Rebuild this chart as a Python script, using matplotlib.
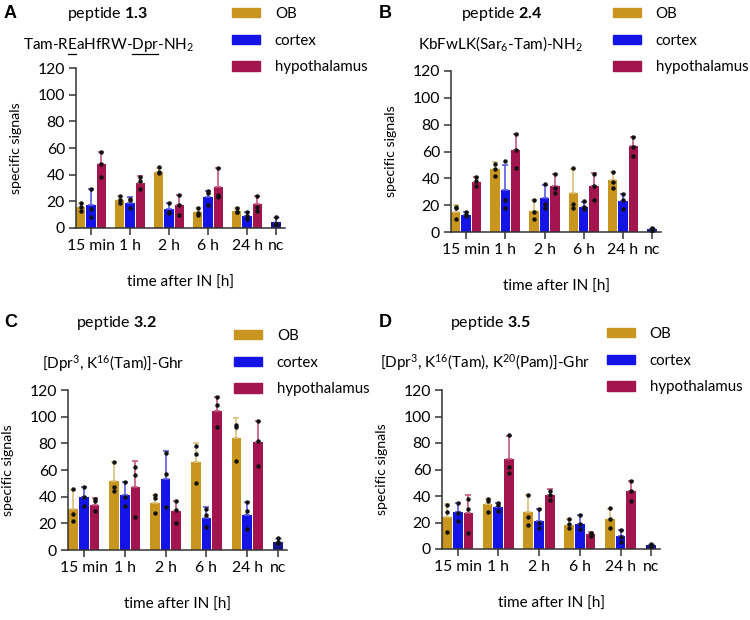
import numpy as np
import matplotlib.pyplot as plt
from matplotlib.patches import Patch
from matplotlib.lines import Line2D

plt.rcParams['font.family'] = ['Lato', 'DejaVu Sans']
plt.rcParams['mathtext.fontset'] = 'custom'
plt.rcParams['mathtext.rm'] = 'Lato'
plt.rcParams['mathtext.bf'] = 'Lato:bold'
plt.rcParams['mathtext.it'] = 'Lato:italic'

times = ["15 min", "1 h", "2 h", "6 h", "24 h", "nc"]
series = ["OB", "cortex", "hypothalamus"]

# panel A - peptide 1.3
ob_A = [16, 21, 42, 12, 13]
ob_A_sd = [3, 3, 3, 3, 2]
cx_A = [17, 19, 14, 23, 9]
cx_A_sd = [12, 4, 5, 5, 3]
hy_A = [48, 34, 17, 31, 18]
hy_A_sd = [9, 5, 8, 14, 6]
nc_A, nc_A_sd = 4.5, 3.5
ob_A_pts = [[19, 13, 16], [24, 21, 19], [46, 42, 41], [15, 11, 10], [15, 12, 12]]
cx_A_pts = [[29, 8, 14], [22, 21, 15], [19, 12, 11], [28, 26, 17], [12, 9, 7]]
hy_A_pts = [[57, 48, 38], [38, 35, 29], [25, 17, 10], [45, 25, 23], [24, 16, 13]]
nc_A_pts = [8, 3, 3]

# panel B - peptide 2.4
ob_B = [15, 47, 16, 29, 39]
ob_B_sd = [5, 5, 8, 18, 6]
cx_B = [13, 31, 25, 19, 23]
cx_B_sd = [2, 19, 10, 3, 5]
hy_B = [37, 61, 34, 34, 64]
hy_B_sd = [4, 12, 9, 10, 7]
nc_B, nc_B_sd = 2, 1
ob_B_pts = [[19, 18, 10], [51, 47, 42], [24, 15, 10], [48, 21, 18], [45, 37, 33]]
cx_B_pts = [[15, 13, 12], [53, 24, 18], [36, 21, 18], [23, 19, 17], [28, 24, 17]]
hy_B_pts = [[41, 38, 34], [73, 61, 48], [43, 33, 29], [43, 34, 24], [71, 63, 57]]
nc_B_pts = [3, 2, 1]

# panel C - peptide 3.2
ob_C = [31, 52, 35, 66, 84]
ob_C_sd = [14, 14, 6, 14, 15]
cx_C = [40, 41, 53, 24, 26]
cx_C_sd = [7, 10, 21, 8, 10]
hy_C = [34, 47, 29, 104, 81]
hy_C_sd = [5, 20, 8, 11, 16]
nc_C, nc_C_sd = 6, 3
ob_C_pts = [[46, 27, 22], [66, 47, 44], [41, 39, 28], [78, 72, 50], [94, 92, 67]]
cx_C_pts = [[47, 40, 33], [51, 40, 33], [73, 57, 32], [31, 26, 17], [36, 29, 16]]
hy_C_pts = [[38, 37, 29], [62, 56, 25], [37, 30, 20], [115, 109, 92], [97, 82, 63]]
nc_C_pts = [9, 6, 5]

# panel D - peptide 3.5
ob_D = [24, 34, 28, 18, 23]
ob_D_sd = [10, 4, 13, 5, 7]
cx_D = [28, 32, 21, 19, 10]
cx_D_sd = [7, 3, 9, 7, 4]
hy_D = [27, 68, 41, 11, 44]
hy_D_sd = [14, 17, 4, 2, 7]
nc_D, nc_D_sd = 3, 1
ob_D_pts = [[33, 28, 13], [38, 36, 28], [41, 24, 18], [23, 19, 16], [31, 23, 16]]
cx_D_pts = [[35, 27, 21], [35, 33, 29], [30, 20, 16], [26, 19, 15], [14, 9, 5]]
hy_D_pts = [[38, 30, 12], [86, 62, 57], [44, 41, 37], [12, 11, 10], [51, 44, 36]]
nc_D_pts = [4, 3, 2]

colors = ["#C8961E", "#1414E6", "#A3154F"]
err_colors = ["#DCC07A", "#5A5AE6", "#C4577F"]
nc_color = "#16168C"

W, H = 750, 620
fig = plt.figure(figsize=(7.5, 6.2), dpi=100)
renderer = fig.canvas.get_renderer()


def fx(x):
    return x / W


def fy(y):
    return 1 - y / H


def text_width(s, size):
    t = fig.text(0, 0, s, fontsize=size)
    wdt = t.get_window_extent(renderer).width
    t.remove()
    return wdt


def draw_panel(rect, means, sds, pts, nc, nc_sd, nc_pts):
    l, r, b, t = rect
    ax = fig.add_axes([fx(l), fy(b), fx(r - l), fy(t) - fy(b)])
    x = np.arange(5)
    w = 0.24
    offs = [-0.265, 0, 0.265]
    for i in range(3):
        xs = x + offs[i]
        ax.bar(xs, means[i], width=w, color=colors[i], zorder=2)
        ax.errorbar(xs, means[i], yerr=[np.zeros(5), sds[i]], fmt='none',
                    ecolor=err_colors[i], elinewidth=1.2, capsize=2.5, capthick=1.2, zorder=3)
        for k in range(5):
            ax.plot([xs[k]] * 3, pts[i][k], 'o', color='#111111', ms=2.2, zorder=4)
    xnc = 4.74
    ax.bar(xnc, nc, width=w, color=nc_color, zorder=2)
    ax.errorbar(xnc, nc, yerr=[[0], [nc_sd]], fmt='none', ecolor='#3a3aa0',
                elinewidth=1.2, capsize=2.5, zorder=3)
    ax.plot([xnc] * 3, nc_pts, 'o', color='#111111', ms=2.2, zorder=4)

    ax.set_xlim(-0.385, 4.97)
    ax.set_ylim(0, 120)
    ax.set_yticks(range(0, 121, 20))
    ax.set_xticks(list(x) + [xnc])
    ax.set_xticklabels(times)
    for s in ['top', 'right']:
        ax.spines[s].set_visible(False)
    for s in ['left', 'bottom']:
        ax.spines[s].set_linewidth(1.1)
        ax.spines[s].set_color('#333333')
    ax.tick_params(length=5, width=1.1, color='#333333', labelsize=11.3, pad=3)
    ax.set_ylabel("specific signals", fontsize=10.2, labelpad=11)
    ax.set_xlabel("time after IN [h]", fontsize=11, labelpad=16)
    return ax


def legend_at(x, y):
    handles = [Patch(facecolor=c, edgecolor=c) for c in colors]
    fig.legend(handles, series, loc='upper left', bbox_to_anchor=(fx(x), fy(y)),
               frameon=False, fontsize=10.8, handlelength=1.85, handleheight=0.6,
               handletextpad=1.0, labelspacing=0.85, borderpad=0, borderaxespad=0)


panels = [
    ("A", (76, 285, 228, 68), [ob_A, cx_A, hy_A], [ob_A_sd, cx_A_sd, hy_A_sd],
     [ob_A_pts, cx_A_pts, hy_A_pts], nc_A, nc_A_sd, nc_A_pts),
    ("B", (451, 661, 232, 71), [ob_B, cx_B, hy_B], [ob_B_sd, cx_B_sd, hy_B_sd],
     [ob_B_pts, cx_B_pts, hy_B_pts], nc_B, nc_B_sd, nc_B_pts),
    ("C", (68, 287, 550, 390), [ob_C, cx_C, hy_C], [ob_C_sd, cx_C_sd, hy_C_sd],
     [ob_C_pts, cx_C_pts, hy_C_pts], nc_C, nc_C_sd, nc_C_pts),
    ("D", (442, 660, 549, 390), [ob_D, cx_D, hy_D], [ob_D_sd, cx_D_sd, hy_D_sd],
     [ob_D_pts, cx_D_pts, hy_D_pts], nc_D, nc_D_sd, nc_D_pts),
]
for p in panels:
    draw_panel(p[1], p[2], p[3], p[4], p[5], p[6], p[7])

# panel letters
for lab, x, y in [("A", 4, 14), ("B", 379, 14), ("C", 4, 322), ("D", 379, 322)]:
    fig.text(fx(x), fy(y), lab, family='Liberation Sans', fontweight='bold',
             fontsize=13, va='center', ha='left')

# titles
tsize = 11.5
ssize = 11
for name, x, y in [("1.3", 67, 14), ("2.4", 461, 14), ("3.2", 76, 323), ("3.5", 450, 323)]:
    fig.text(fx(x), fy(y), "peptide $\\mathbf{" + name + "}$", fontsize=tsize, va='center')

fig.text(fx(380), fy(363), "[Dpr$^3$, K$^{16}$(Tam), K$^{20}$(Pam)]-Ghr", fontsize=ssize, va='center')
fig.text(fx(42), fy(364), "[Dpr$^3$, K$^{16}$(Tam)]-Ghr", fontsize=ssize, va='center')
fig.text(fx(418), fy(44), "KbFwLK(Sar$_6$-Tam)-NH$_2$", fontsize=ssize, va='center')
fig.text(fx(23), fy(45), "Tam-REaHfRW-Dpr-NH$_2$", fontsize=ssize, va='center')

# underline E and Dpr in the panel A sequence
x0 = 23
for pre, seg in [("Tam-R", "E"), ("Tam-REaHfRW-", "Dpr")]:
    a = x0 + text_width(pre, ssize)
    b = x0 + text_width(pre + seg, ssize)
    fig.add_artist(Line2D([fx(a), fx(b)], [fy(54), fy(54)], color='black', lw=0.9))

legend_at(232, 7)
legend_at(613, 7)
legend_at(234, 329)
legend_at(607, 327)

fig.savefig("out.png", dpi=100)
